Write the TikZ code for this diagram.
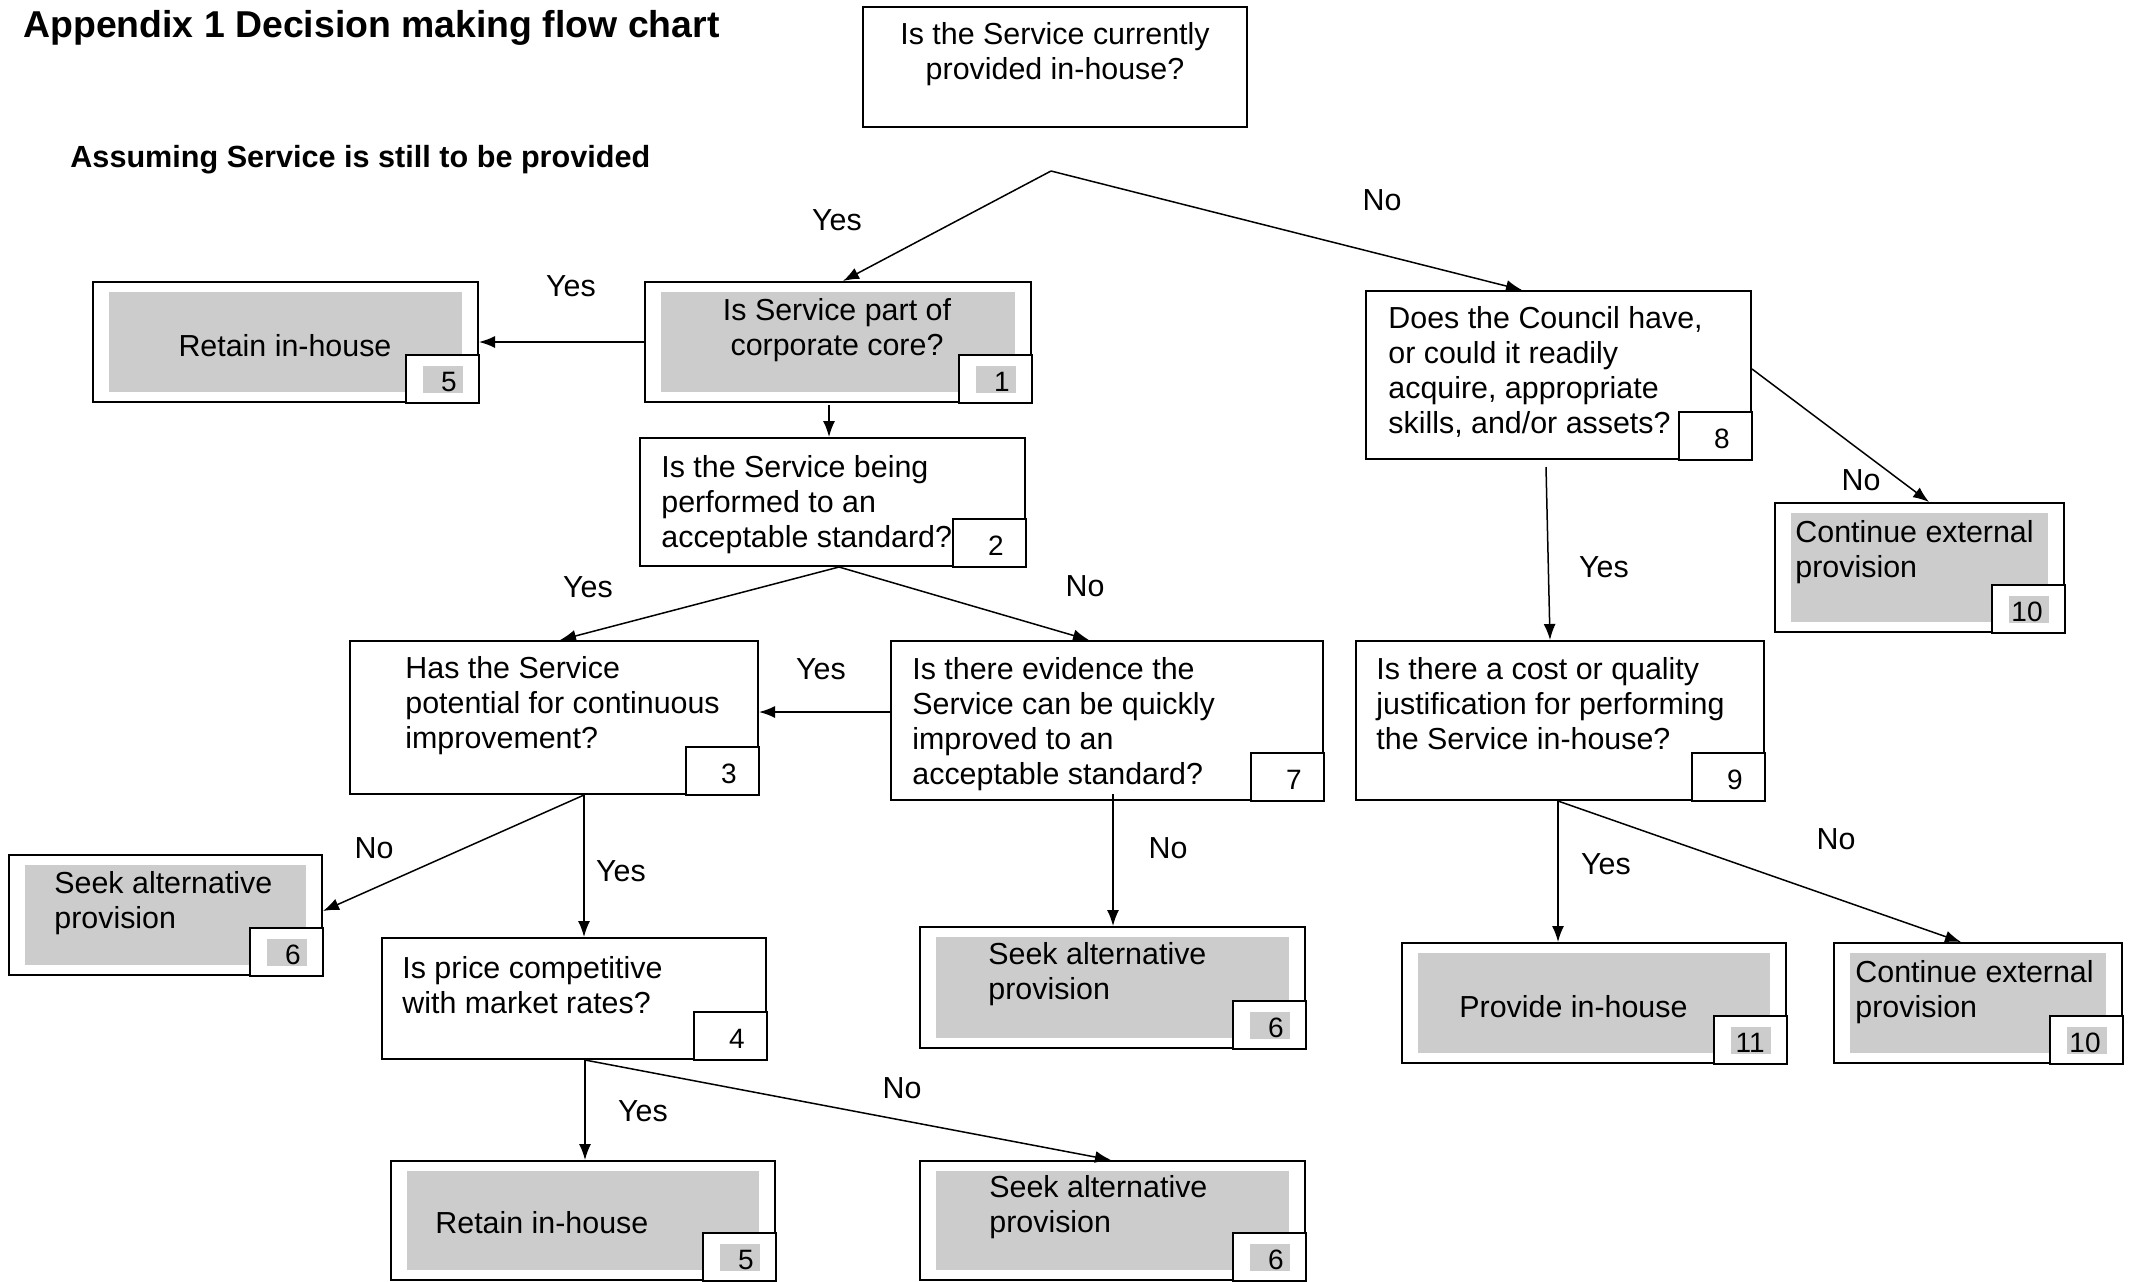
\documentclass[tikz,border=0pt]{standalone}
\usepackage{fontspec}
\setmainfont{Liberation Sans}
\usetikzlibrary{arrows.meta,calc,fit}
\definecolor{boxgray}{RGB}{204,204,204}
\newcommand\bodyfont{\fontsize{15.2}{17.5}\selectfont}
\newcommand\numfont{\fontsize{14}{16}\selectfont}
\newcommand\titlefont{\fontsize{18.7}{21.5}\selectfont\bfseries}
\newcommand\subfont{\fontsize{15.3}{17.6}\selectfont\bfseries}
\tikzset{
  wb/.style={draw, line width=1pt, fill=white, inner sep=0pt},
  gf/.style={fill=boxgray, inner sep=0pt},
  nb/.style={draw, line width=1pt, fill=white, inner sep=0pt},
  np/.style={fill=boxgray, inner sep=0pt},
  numtxt/.style={font=\numfont, inner sep=0pt, anchor=base east},
  txt/.style={font=\bodyfont, inner sep=0pt, align=left, anchor=north west},
  ctxt/.style={font=\bodyfont, inner sep=0pt, align=center, anchor=north},
  lbl/.style={font=\bodyfont, inner sep=0pt, anchor=base},
  conn/.style={draw, line width=0.75pt, -{Latex[length=8pt,width=6pt]}},
}
% white question box
\newcommand\wbox[5]{\node[wb, fit={(#2,#3) (#4,#5)}] (#1) {};}
% grey outcome box
\newcommand\gbox[5]{%
  \node[wb, fit={(#2,#3) (#4,#5)}] (#1) {};
  \node[gf, fit={(#2+16,#3+10) (#4-16,#5-10)}] (#1g) {};}
% number box, plain
\newcommand\nbox[2]{%
  \node[nb, fit={($(#1.south east)+(-73,-48)$) (#1.south east)}] (#1n) {};
  \node[numtxt] (#1d) at ($(#1.south east)+(-22,-12)$) {#2};}
% number box, with grey patch
\newcommand\ngbox[2]{%
  \node[nb, fit={($(#1.south east)+(-73,-48)$) (#1.south east)}] (#1n) {};
  \node[np, fit={($(#1.south east)+(-56,-37)$) ($(#1.south east)+(-16,-10)$)}] (#1p) {};
  \node[numtxt] (#1d) at ($(#1.south east)+(-22,-12)$) {#2};}
\newcommand\tx[4]{\node[txt] (#1) at (#2,#3-24.5) {\strut #4};}
\newcommand\ctx[4]{\node[ctxt] (#1) at (#2,#3-24.5) {\strut #4};}
\begin{document}
\begin{tikzpicture}[x=0.5pt,y=-0.5pt]
\useasboundingbox (0,0) rectangle (2134,1281);
\fill[white] (0,0) rectangle (2134,1281);

\node[font=\titlefont, inner sep=0pt, anchor=base west] (title) at (23,37) {Appendix 1 Decision making flow chart};
\node[font=\subfont, inner sep=0pt, anchor=base west] (subtitle) at (70,167) {Assuming Service is still to be provided};

% boxes
\wbox{q0}{863}{7}{1247}{127}
\gbox{b5}{93}{282}{478}{402}
\gbox{b1}{645}{282}{1031}{402}
\wbox{b2}{640}{438}{1025}{566}
\wbox{b3}{350}{641}{758}{794}
\wbox{b7}{891}{641}{1323}{800}
\wbox{b9}{1356}{641}{1764}{800}
\wbox{b8}{1366}{291}{1751}{459}
\gbox{b10}{1775}{503}{2064}{632}
\gbox{b6l}{9}{855}{322}{975}
\wbox{b4}{382}{938}{766}{1059}
\gbox{b6m}{920}{927}{1305}{1048}
\gbox{b11}{1402}{943}{1786}{1063}
\gbox{b10b}{1834}{943}{2122}{1063}
\gbox{b5b}{391}{1161}{775}{1280}
\gbox{b6b}{920}{1161}{1305}{1280}

% texts
\ctx{q0t}{1055}{44}{Is the Service currently\\provided in-house?}
\ctx{b5t}{285}{356}{Retain in-house}
\ctx{b1t}{837}{320}{Is Service part of\\corporate core?}
\tx{b2t}{661}{477}{Is the Service being\\performed to an\\acceptable standard?}
\tx{b3t}{405}{678}{Has the Service\\potential for continuous\\improvement?}
\tx{b7t}{912}{679}{Is there evidence the\\Service can be quickly\\improved to an\\acceptable standard?}
\tx{b9t}{1376}{679}{Is there a cost or quality\\justification for performing\\the Service in-house?}
\tx{b8t}{1388}{328}{Does the Council have,\\or could it readily\\acquire, appropriate\\skills, and/or assets?}
\tx{b10t}{1795}{542}{Continue external\\provision}
\tx{b6lt}{54}{893}{Seek alternative\\provision}
\tx{b4t}{402}{978}{Is price competitive\\with market rates?}
\tx{b6mt}{988}{964}{Seek alternative\\provision}
\tx{b11t}{1459}{1017}{Provide in-house}
\tx{b10bt}{1855}{982}{Continue external\\provision}
\tx{b5bt}{435}{1233}{Retain in-house}
\tx{b6bt}{989}{1197}{Seek alternative\\provision}

% number boxes
\ngbox{b5}{5}
\ngbox{b1}{1}
\nbox{b2}{2}
\nbox{b3}{3}
\nbox{b4}{4}
\nbox{b7}{7}
\nbox{b8}{8}
\nbox{b9}{9}
\ngbox{b10}{10}
\ngbox{b6l}{6}
\ngbox{b6m}{6}
\ngbox{b11}{11}
\ngbox{b10b}{10}
\ngbox{b5b}{5}
\ngbox{b6b}{6}

% connectors
\coordinate (J) at (1051,171);
\draw[conn] (J) -- ($(b1.north west)+(199,0)$);
\draw[conn] (J) -- ($(b8.north west)+(157,0)$);
\draw[conn] (b1.west) -- (b5.east);
\draw[conn] ($(b1.south west)+(185,2)$) -- ($(b2.north west)+(190,0)$);
\draw[conn] ($(b2.south west)+(200,0)$) -- ($(b3.north west)+(211,0)$);
\draw[conn] ($(b2.south west)+(200,0)$) -- ($(b7.north west)+(199,0)$);
\draw[conn] ($(b7.north west)+(0,72)$) -- ($(b3.north east)+(0,72)$);
\draw[conn] ($(b7.south west)+(223,-7)$) -- ($(b6m.north west)+(194,0)$);
\draw[conn] ($(b3.south west)+(235,0)$) -- ($(b4.north west)+(203,0)$);
\draw[conn] ($(b3.south west)+(235,0)$) -- ($(b6l.north east)+(0,57)$);
\draw[conn] ($(b4.south west)+(204,0)$) -- ($(b5b.north west)+(195,0)$);
\draw[conn] ($(b4.south west)+(204,0)$) -- ($(b6b.north west)+(192,0)$);
\draw[conn] ($(b8.south west)+(181,7)$) -- ($(b9.north west)+(195,0)$);
\draw[conn] ($(b8.north east)+(0,79)$) -- ($(b10.north west)+(155,0)$);
\draw[conn] ($(b9.south west)+(203,0)$) -- ($(b11.north west)+(157,0)$);
\draw[conn] ($(b9.south west)+(203,0)$) -- ($(b10b.north west)+(128,0)$);

% labels
\node[lbl] (l1) at (837,230) {Yes};
\node[lbl] (l2) at (1382,210) {No};
\node[lbl] (l3) at (571,296) {Yes};
\node[lbl] (l4) at (588,597) {Yes};
\node[lbl] (l5) at (1085,596) {No};
\node[lbl] (l6) at (821,679) {Yes};
\node[lbl] (l7) at (1168,858) {No};
\node[lbl] (l8) at (1604,577) {Yes};
\node[lbl] (l9) at (1861,490) {No};
\node[lbl] (l10) at (1606,874) {Yes};
\node[lbl] (l11) at (1836,849) {No};
\node[lbl] (l12) at (374,858) {No};
\node[lbl] (l13) at (621,881) {Yes};
\node[lbl] (l14) at (643,1121) {Yes};
\node[lbl] (l15) at (902,1098) {No};
\end{tikzpicture}
\end{document}
